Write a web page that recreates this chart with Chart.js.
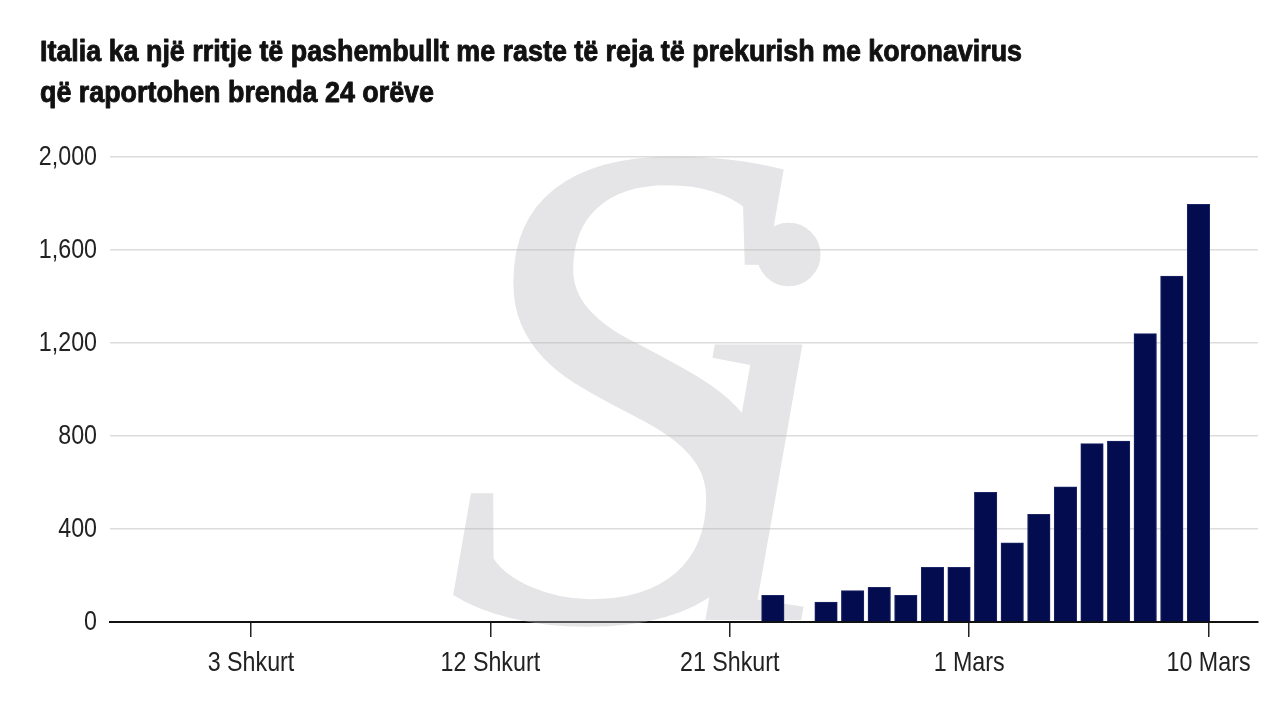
<!DOCTYPE html>
<html>
<head>
<meta charset="utf-8">
<script src="https://cdn.jsdelivr.net/npm/chart.js@4"></script>
<style>
  html, body { margin: 0; padding: 0; background: #fff; }
  #wrap { width: 1280px; height: 720px; }
</style>
</head>
<body>
<div id="wrap"><canvas id="barChart" width="1280" height="720"></canvas></div>
<script>
// new cases reported in Italy within 24 hours
const days = ["2020-02-22", "2020-02-24", "2020-02-25", "2020-02-26", "2020-02-27", "2020-02-28",
  "2020-02-29", "2020-03-01", "2020-03-02", "2020-03-03", "2020-03-04", "2020-03-05",
  "2020-03-06", "2020-03-07", "2020-03-08", "2020-03-09"];
const newCases = [115, 86, 135, 149, 115, 235, 235, 558, 340, 463, 581, 767, 778, 1240, 1488, 1796];
const tickDates = ["2020-02-03", "2020-02-12", "2020-02-21", "2020-03-01", "2020-03-10"];
const tickLabels = ["3 Shkurt", "12 Shkurt", "21 Shkurt", "1 Mars", "10 Mars"];
const yTicks = [0, 400, 800, 1200, 1600, 2000];
const titleLines = [
  "Italia ka një rritje të pashembullt me raste të reja të prekurish me koronavirus",
  "që raportohen brenda 24 orëve"
];

const FONT = '"Liberation Sans", Arial, sans-serif';
const NARROW = 0.83; // horizontal squeeze to get a condensed look
const start = Date.UTC(2020, 1, 3);
const dayNum = (s) => (Date.parse(s + "T00:00:00Z") - start) / 86400000;
const tickDays = tickDates.map(dayNum);

function squeezedText(c, text, x, y, align, sx, stroke) {
  c.save();
  c.translate(x, y);
  c.scale(sx, 1);
  c.textAlign = align;
  if (stroke) c.strokeText(text, 0, 0);
  c.fillText(text, 0, 0);
  c.restore();
}

// title + condensed tick labels
const textPlugin = {
  id: "textPlugin",
  afterDraw(chart) {
    const c = chart.ctx;
    c.save();
    c.fillStyle = "#111";
    c.strokeStyle = "#111";
    c.lineWidth = 0.9;
    c.lineJoin = "round";
    c.font = "bold 29px " + FONT;
    c.textBaseline = "alphabetic";
    const sx = 982 / c.measureText(titleLines[0]).width;
    squeezedText(c, titleLines[0], 40, 61, "left", sx, true);
    squeezedText(c, titleLines[1], 40, 102, "left", sx, true);

    c.fillStyle = "#222";
    c.font = "28px " + FONT;
    c.textBaseline = "middle";
    const xs = chart.scales.x;
    xs.ticks.forEach((t, i) => {
      squeezedText(c, tickLabels[i], xs.getPixelForValue(t.value), 663, "center", NARROW, false);
    });
    const ys = chart.scales.y;
    ys.ticks.forEach((t) => {
      squeezedText(c, t.value.toLocaleString("en-US"), 97, ys.getPixelForValue(t.value), "right", NARROW, false);
    });
    c.restore();
  }
};

// faint logo behind the bars (drawn opaque offscreen, then blended once)
const watermark = {
  id: "watermark",
  beforeDatasetsDraw(chart) {
    const off = document.createElement("canvas");
    off.width = chart.width;
    off.height = chart.height;
    const o = off.getContext("2d");
    o.fillStyle = "rgb(190, 188, 192)";
    o.textBaseline = "alphabetic";
    o.font = "italic 700px \"Liberation Serif\", serif";
    o.fillText("S", 445, 620);
    o.font = "italic 600px \"Liberation Serif\", serif";
    o.fillText("i", 672, 620);
    const c = chart.ctx;
    c.save();
    c.globalAlpha = 0.4;
    c.drawImage(off, 0, 0);
    c.restore();
  }
};

const ctx = document.getElementById("barChart").getContext("2d");
const barChart = new Chart(ctx, {
  type: "bar",
  data: {
    datasets: [
      {
        label: "Raste të reja",
        data: days.map((d, i) => ({ x: dayNum(d) + 0.62, y: newCases[i] })),
        backgroundColor: "#030c4e",
        borderColor: "#1c2566",
        borderWidth: 1,
        barThickness: 22.5,
      },
    ],
  },
  options: {
    responsive: false,
    animation: false,
    devicePixelRatio: 1,
    layout: { padding: { left: 38, right: 22, top: 157, bottom: 0 } },
    scales: {
      x: {
        type: "linear",
        offset: false,
        min: -5.3,
        max: 37.86,
        afterFit: (scale) => { scale.height = 98; },
        afterBuildTicks: (scale) => { scale.ticks = tickDays.map((v) => ({ value: v })); },
        ticks: { display: false },
        grid: { offset: false, drawOnChartArea: false, tickLength: 15, color: "#222", lineWidth: 1.5 },
        border: { display: true, color: "#111", width: 2 },
      },
      y: {
        min: 0,
        max: 2000,
        afterFit: (scale) => { scale.width = 72; },
        afterBuildTicks: (scale) => { scale.ticks = yTicks.map((v) => ({ value: v })); },
        ticks: { display: false },
        grid: {
          drawTicks: false,
          lineWidth: 1.5,
          color: (c) => (c.tick && c.tick.value === 0 ? "rgba(0,0,0,0)" : "#dcdcdc"),
        },
        border: { display: false },
      },
    },
    plugins: {
      legend: { display: false },
      tooltip: { enabled: false },
    },
  },
  plugins: [textPlugin, watermark],
});
</script>
</body>
</html>
